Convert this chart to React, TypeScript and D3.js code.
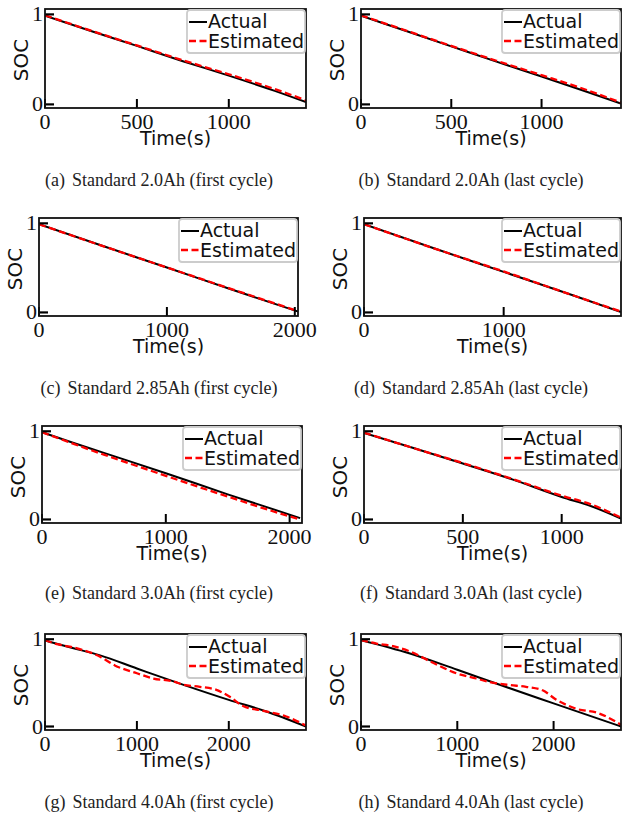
import React, { useEffect, useRef } from 'react';
import * as d3 from 'd3';

// subfigure captions
const tags = ['(a)', '(b)', '(c)', '(d)', '(e)', '(f)', '(g)', '(h)'];
const captions = [
  'Standard 2.0Ah (first cycle)', 'Standard 2.0Ah (last cycle)',
  'Standard 2.85Ah (first cycle)', 'Standard 2.85Ah (last cycle)',
  'Standard 3.0Ah (first cycle)', 'Standard 3.0Ah (last cycle)',
  'Standard 4.0Ah (first cycle)', 'Standard 4.0Ah (last cycle)',
];
const xMax = [1420, 1440, 2025, 1840, 2100, 1300, 2840, 2700];
const xTicks = [
  [0, 500, 1000], [0, 500, 1000],
  [0, 1000, 2000], [0, 1000, 2000],
  [0, 1000, 2000], [0, 500, 1000],
  [0, 1000, 2000], [0, 1000, 2000],
];
const yTicks = [0, 1];

// (a)
const timeA = [0, 250, 500, 750, 1000, 1250, 1420];
const actualA = [0.985, 0.815, 0.65, 0.48, 0.32, 0.15, 0.025];
const estA = [0.99, 0.82, 0.655, 0.49, 0.335, 0.17, 0.045];
// (b)
const timeB = [0, 250, 500, 750, 1000, 1250, 1440];
const actualB = [0.985, 0.815, 0.645, 0.475, 0.31, 0.14, 0.01];
const estB = [0.99, 0.82, 0.65, 0.485, 0.325, 0.16, 0.02];
// (c)
const timeC = [0, 500, 1000, 1500, 2025];
const actualC = [0.99, 0.745, 0.505, 0.26, 0.01];
const estC = [0.99, 0.745, 0.505, 0.265, 0.015];
// (d)
const timeD = [0, 500, 1000, 1500, 1840];
const actualD = [0.99, 0.72, 0.455, 0.19, 0.005];
const estD = [0.99, 0.72, 0.46, 0.19, 0.01];
// (e)
const timeE = [0, 250, 500, 1000, 1500, 2000, 2085];
const actualE = [0.99, 0.87, 0.755, 0.525, 0.285, 0.055, 0.015];
const estE = [0.99, 0.86, 0.735, 0.495, 0.26, 0.035, 0.0];
// (f)
const timeF = [0, 250, 500, 750, 1000, 1150, 1300];
const actualF = [0.98, 0.81, 0.635, 0.455, 0.255, 0.15, 0.01];
const estF = [0.985, 0.81, 0.64, 0.46, 0.27, 0.17, 0.02];
// (g)
const timeActG = [0, 300, 600, 1000, 1500, 2000, 2400, 2840];
const actualG = [0.985, 0.9, 0.815, 0.665, 0.48, 0.305, 0.175, 0.0];
const timeEstG = [0, 145, 270, 600, 760, 1000, 1180, 1400, 1500, 1685, 1865, 2010, 2155, 2375, 2625, 2840];
const estG = [0.99, 0.94, 0.915, 0.8, 0.7, 0.61, 0.55, 0.515, 0.48, 0.455, 0.42, 0.34, 0.235, 0.18, 0.115, 0.01];
// (h)
const timeActH = [0, 500, 1000, 1500, 2000, 2700];
const actualH = [0.99, 0.84, 0.65, 0.455, 0.265, 0.0];
const timeEstH = [0, 162, 334, 507, 748, 990, 1197, 1334, 1541, 1714, 1886, 2024, 2231, 2472, 2700];
const estH = [0.99, 0.95, 0.92, 0.86, 0.73, 0.61, 0.55, 0.51, 0.475, 0.455, 0.415, 0.31, 0.205, 0.15, 0.02];

const series = [
  { ta: timeA, a: actualA, te: timeA, e: estA },
  { ta: timeB, a: actualB, te: timeB, e: estB },
  { ta: timeC, a: actualC, te: timeC, e: estC },
  { ta: timeD, a: actualD, te: timeD, e: estD },
  { ta: timeE, a: actualE, te: timeE, e: estE },
  { ta: timeF, a: actualF, te: timeF, e: estF },
  { ta: timeActG, a: actualG, te: timeEstG, e: estG },
  { ta: timeActH, a: actualH, te: timeEstH, e: estH },
];

// panel boxes in page pixels
const boxLeft = [45, 361, 39, 364, 42, 364, 45, 361];
const boxRight = [306, 621, 298, 621, 302, 621, 306, 621];
const rowTop = [9, 218, 426, 634];
const rowBottom = [108, 316, 523, 730];
const captionX = [159, 471];
const captionY = [186, 394, 599, 808];

const sans = "'DejaVu Sans', sans-serif";
const serif = "'Liberation Serif', 'Times New Roman', serif";

const App = () => {
  const svgRef = useRef(null);

  useEffect(() => {
    const svg = d3.select(svgRef.current);
    svg.selectAll('*').remove();

    series.forEach((s, i) => {
      const row = Math.floor(i / 2);
      const col = i % 2;
      const left = boxLeft[i];
      const right = boxRight[i];
      const top = rowTop[row];
      const bottom = rowBottom[row];

      const x = d3.scaleLinear().domain([0, xMax[i]]).range([left, right]);
      const y = d3.scaleLinear().domain([-0.04, 1.06]).range([bottom, top]);

      const g = svg.append('g');
      const clipId = `clip${i}`;
      g.append('clipPath').attr('id', clipId)
        .append('rect')
        .attr('x', left).attr('y', top)
        .attr('width', right - left).attr('height', bottom - top);

      const line = d3.line()
        .x(d => x(d[0]))
        .y(d => y(d[1]))
        .curve(d3.curveMonotoneX);

      const lines = g.append('g').attr('clip-path', `url(#${clipId})`);
      lines.append('path')
        .datum(d3.zip(s.ta, s.a))
        .attr('fill', 'none')
        .attr('stroke', 'black')
        .attr('stroke-width', 2)
        .attr('d', line);
      lines.append('path')
        .datum(d3.zip(s.te, s.e))
        .attr('fill', 'none')
        .attr('stroke', '#ff0000')
        .attr('stroke-width', 2.3)
        .attr('stroke-dasharray', '7,3.5')
        .attr('d', line);

      // x axis: inward ticks, labels below
      const xt = xTicks[i].filter(t => t <= xMax[i]);
      g.selectAll('.xtick').data(xt).join('line')
        .attr('x1', d => x(d)).attr('x2', d => x(d))
        .attr('y1', bottom).attr('y2', bottom - 9)
        .attr('stroke', 'black').attr('stroke-width', 2);
      g.selectAll('.xlab').data(xt).join('text')
        .attr('x', d => x(d)).attr('y', bottom + 21)
        .attr('text-anchor', 'middle')
        .attr('font-family', serif).attr('font-size', 22)
        .attr('fill', '#111')
        .text(d => d);

      // y axis
      g.selectAll('.ytick').data(yTicks).join('line')
        .attr('x1', left).attr('x2', left + 9)
        .attr('y1', d => y(d)).attr('y2', d => y(d))
        .attr('stroke', 'black').attr('stroke-width', 2.2);
      g.selectAll('.ylab').data(yTicks).join('text')
        .attr('x', left - 2).attr('y', d => y(d) + 7)
        .attr('text-anchor', 'end')
        .attr('font-family', serif).attr('font-size', 22)
        .attr('fill', '#111')
        .text(d => d);

      g.append('rect')
        .attr('x', left).attr('y', top)
        .attr('width', right - left).attr('height', bottom - top)
        .attr('fill', 'none').attr('stroke', '#111').attr('stroke-width', 1.8);

      g.append('text')
        .attr('x', (left + right) / 2).attr('y', bottom + 37)
        .attr('text-anchor', 'middle')
        .attr('font-family', sans).attr('font-size', 19)
        .attr('fill', '#111')
        .text('Time(s)');
      g.append('text')
        .attr('transform', `translate(${left - 17},${top + 51}) rotate(-90)`)
        .attr('text-anchor', 'middle')
        .attr('font-family', sans).attr('font-size', 20)
        .attr('fill', '#111')
        .text('SOC');

      // legend
      const leg = g.append('g').attr('transform', `translate(${right},${top})`);
      leg.append('rect')
        .attr('x', -119).attr('y', 1).attr('width', 118).attr('height', 43)
        .attr('rx', 3)
        .attr('fill', 'white').attr('fill-opacity', 0.8)
        .attr('stroke', '#cccccc').attr('stroke-width', 1.8);
      leg.append('line')
        .attr('x1', -117).attr('x2', -99).attr('y1', 13).attr('y2', 13)
        .attr('stroke', 'black').attr('stroke-width', 2);
      leg.append('line')
        .attr('x1', -117).attr('x2', -99).attr('y1', 32).attr('y2', 32)
        .attr('stroke', '#ff0000').attr('stroke-width', 2.3)
        .attr('stroke-dasharray', '7,3.5');
      leg.append('text')
        .attr('x', -98).attr('y', 19)
        .attr('font-family', sans).attr('font-size', 19).attr('fill', '#111')
        .text('Actual');
      leg.append('text')
        .attr('x', -98).attr('y', 39)
        .attr('font-family', sans).attr('font-size', 19).attr('fill', '#111')
        .text('Estimated');

      // caption
      const cap = g.append('text')
        .attr('x', captionX[col]).attr('y', captionY[row])
        .attr('text-anchor', 'middle')
        .attr('font-family', serif).attr('font-size', 18)
        .attr('fill', '#222');
      cap.append('tspan').text(tags[i]);
      cap.append('tspan').attr('dx', 7).text(captions[i]);
    });
  }, []);

  return (
    <svg ref={svgRef} width={626} height={814}
      style={{ position: 'absolute', left: 0, top: 0, background: 'white' }} />
  );
};

export default App;
